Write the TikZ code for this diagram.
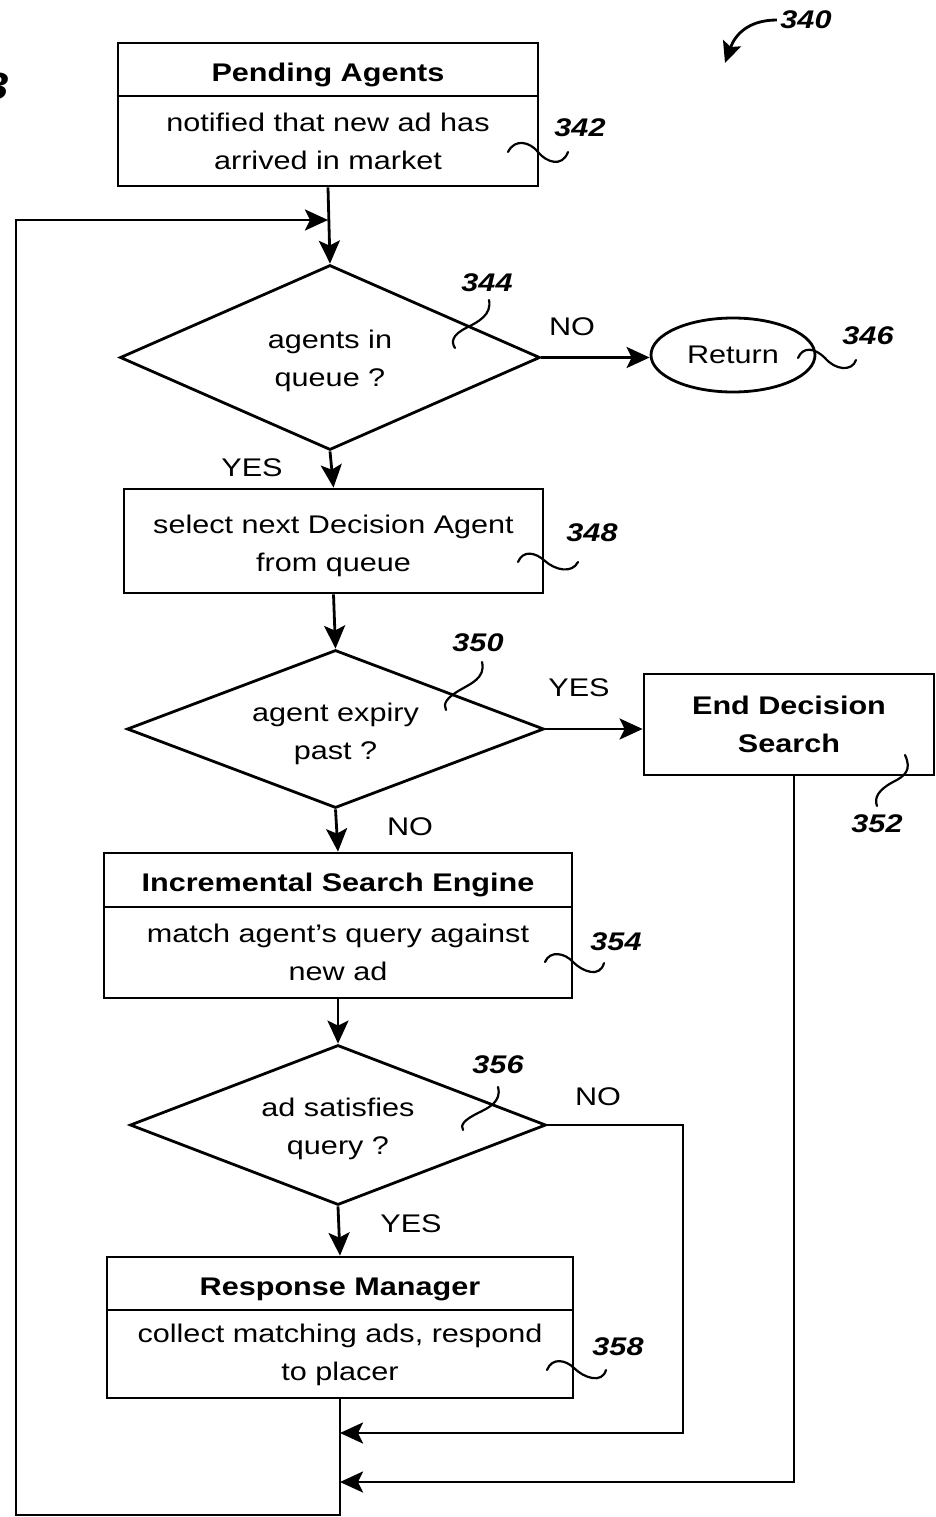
\documentclass[tikz,border=0pt]{standalone}
\usepackage{fontspec}
\setmainfont{Liberation Sans}[FakeStretch=1.2]
\usetikzlibrary{shapes.geometric,arrows.meta}
\begin{document}
\begin{tikzpicture}[x=1pt,y=1pt,
  every node/.style={font=\fontsize{25.5}{38}\selectfont, align=center},
  ln/.style={line width=2.8pt},
  arr/.style={ln,-{Stealth[length=23pt,width=21pt,inset=5pt]}},
  boxn/.style={draw, line width=2.8pt, rectangle, inner sep=0pt},
  dia/.style={draw, line width=2.8pt, diamond, inner sep=0pt},
  ttl/.style={font=\fontsize{25.5}{38}\selectfont\bfseries},
  refn/.style={font=\fontsize{25.5}{30}\selectfont\bfseries\itshape},
  sq/.style={line width=2.2pt, line cap=round}]
\useasboundingbox (0,0) rectangle (936,-1517);

% figure label fragment
\node[font=\fontsize{38}{40}\selectfont\bfseries\itshape, anchor=base east, inner sep=0pt] (fig) at (9,-100) {3};

% 340
\node[refn] (r340) at (806,-20) {340};
\draw[ln,-{Stealth[length=21pt,width=19pt,inset=4pt]}] (r340.west) .. controls (748,-20) and (735,-35) .. (725,-63);

% Pending Agents
\node[boxn, minimum width=420pt, minimum height=143pt] (pa) at (328,-114.5) {};
\node[ttl] (pat) at (328,-75) {Pending Agents};
\node (pab) at (328,-141) {notified that new ad has\\arrived in market};
\draw[ln] (pa.west |- 0,-96) -- (pa.east |- 0,-96);
\node[refn] (r342) at (580,-128) {342};
\draw[sq] (508,-152) .. controls (515,-138) and (530,-142) .. (538,-152) .. controls (546,-162) and (562,-168) .. (568,-152);

% decision 1
\node[dia, minimum width=420pt, minimum height=185pt] (d1) at (330,-357.5) {};
\node (d1t) at (330,-361) {agents in\\queue ?};
\node[refn] (r344) at (487,-283) {344};
\draw[sq] (489,-300) .. controls (492,-315) and (478,-322) .. (466,-328) .. controls (452,-335) and (451,-342) .. (455,-348);
\node[draw, ellipse, line width=2.8pt, minimum width=164pt, minimum height=74pt, inner sep=0pt] (ret) at (733,-355) {Return};
\node[refn] (r346) at (868,-336) {346};
\draw[sq] (798,-358) .. controls (803,-346) and (815,-348) .. (825,-358) .. controls (835,-370) and (852,-372) .. (856,-360);
\node (no1) at (572,-327) {NO};
\node (yes1) at (252,-468) {YES};

% select next
\node[boxn, minimum width=419pt, minimum height=104pt] (b348) at (333.5,-541) {};
\node (b348t) at (333.5,-546) {select next Decision Agent\\from queue};
\node[refn] (r348) at (592,-533) {348};
\draw[sq] (518,-562) .. controls (523,-550) and (535,-552) .. (545,-561) .. controls (555,-570) and (572,-574) .. (578,-562);

% decision 2
\node[dia, minimum width=417pt, minimum height=158pt] (d2) at (335.5,-729) {};
\node (d2t) at (335.5,-734) {agent expiry\\past ?};
\node[refn] (r350) at (478,-643) {350};
\draw[sq] (482,-662) .. controls (486,-678) and (470,-684) .. (460,-690) .. controls (446,-698) and (443,-704) .. (446,-710);
\node (yes2) at (579,-688) {YES};
\node (no2) at (410,-827) {NO};

% End Decision Search
\node[boxn, minimum width=290pt, minimum height=101pt] (eds) at (789,-724.5) {};
\node[ttl] (edst) at (789,-724) {End Decision\\Search};
\node[refn] (r352) at (877,-824) {352};
\draw[sq] (905,-755) .. controls (912,-770) and (905,-776) .. (893,-782) .. controls (878,-790) and (874,-798) .. (877,-806);

% Incremental Search Engine
\node[boxn, minimum width=468pt, minimum height=145pt] (ise) at (338,-925.5) {};
\node[ttl] (iset) at (338,-885) {Incremental Search Engine};
\node (iseb) at (338,-952.5) {match agent's query against\\new ad};
\draw[ln] (ise.west |- 0,-907) -- (ise.east |- 0,-907);
\node[refn] (r354) at (616,-942) {354};
\draw[sq] (545,-962) .. controls (550,-950) and (565,-953) .. (573,-962) .. controls (583,-972) and (600,-978) .. (604,-963);

% decision 3
\node[dia, minimum width=416pt, minimum height=160pt] (d3) at (338,-1125) {};
\node (d3t) at (338,-1128.5) {ad satisfies\\query ?};
\node[refn] (r356) at (498,-1065) {356};
\draw[sq] (498,-1087) .. controls (502,-1102) and (488,-1108) .. (478,-1113) .. controls (464,-1120) and (460,-1125) .. (463,-1130);
\node (no3) at (598,-1097) {NO};
\node (yes3) at (411,-1224) {YES};

% Response Manager
\node[boxn, minimum width=466pt, minimum height=141pt] (rm) at (340,-1327.5) {};
\node[ttl] (rmt) at (340,-1289) {Response Manager};
\node (rmb) at (340,-1355) {collect matching ads, respond\\to placer};
\draw[ln] (rm.west |- 0,-1310) -- (rm.east |- 0,-1310);
\node[refn] (r358) at (618,-1347) {358};
\draw[sq] (547,-1370) .. controls (552,-1357) and (566,-1360) .. (574,-1368) .. controls (584,-1378) and (602,-1384) .. (606,-1370);

% connector coordinates
\coordinate (ll) at (16,-1515);
\coordinate (lj) at (328,-220);
\coordinate (j1) at (340,-1433);
\coordinate (j2) at (340,-1482);
\coordinate (nr) at (683,-1125);

% connectors
\draw[arr] (pa.south) -- (d1.north);
\draw[arr] (rm.south) |- (ll) |- (lj);
\draw[arr] (d1.east) -- (d1.east -| ret.west);
\draw[arr] (d1.south) -- (b348.north);
\draw[arr] (b348.south) -- (d2.north);
\draw[arr] (d2.east) -- (d2.east -| eds.west);
\draw[arr] (d2.south) -- (ise.north);
\draw[arr] ([xshift=5pt]eds.south) |- (j2);
\draw[arr] (ise.south) -- (d3.north);
\draw[arr] (d3.east) -- (nr) |- (j1);
\draw[arr] (d3.south) -- (rm.north);
\end{tikzpicture}
\end{document}
